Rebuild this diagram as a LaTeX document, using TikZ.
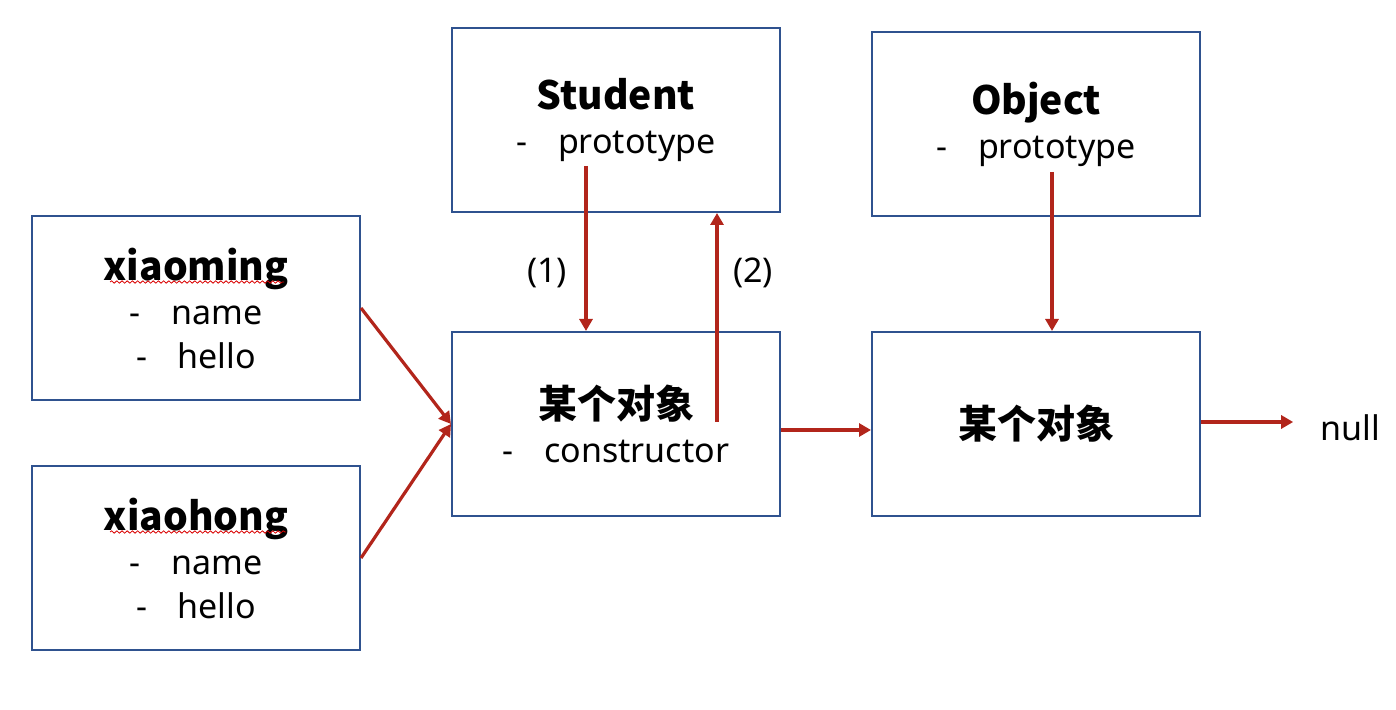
\documentclass[tikz,border=0pt]{standalone}
\usepackage{fontspec}
\setmainfont{Noto Sans}
\newfontfamily\cjk{Noto Sans CJK SC}
\usetikzlibrary{arrows.meta,calc,decorations.pathmorphing}
\definecolor{boxblue}{RGB}{47,82,143}
\definecolor{arrred}{RGB}{178,37,27}
\newcommand\hd[1]{{\fontsize{19.5}{22}\selectfont\cjk\bfseries #1}}
\newcommand\itm[1]{-\hspace{0.9em}#1}

\begin{document}
\begin{tikzpicture}[x=0.5pt,y=-0.5pt,
    objbox/.style={draw=boxblue,line width=1pt,minimum width=164pt,minimum height=92pt,
      inner sep=0pt,align=center,font=\fontsize{17}{22}\selectfont},
    lbl/.style={font=\fontsize{17}{22}\selectfont},
    link/.style={draw=arrred,line width=1.6pt,-{Triangle[length=6pt,width=6.5pt]}},
    squiggle/.style={draw=red!85!black,line width=0.4pt,decorate,
      decoration={snake,segment length=2.6pt,amplitude=0.6pt}}]
    \useasboundingbox (0,0) rectangle (1396,710);
    \node (XM) at (196,308) [objbox] {\hd{xiaoming}\\ \itm{name}\\ \itm{hello}}; % left top
    \node (XH) at (196,558) [objbox] {\hd{xiaohong}\\ \itm{name}\\ \itm{hello}}; % left bottom
    \node (ST) at (616,120) [objbox] {\hd{Student}\\ \itm{prototype}};
    \node (OB1) at (616,424) [objbox] {\hd{某个对象}\\ \itm{constructor}};
    \node (OJ) at (1036,124) [objbox] {\hd{Object}\\ \itm{prototype}};
    \node (OB2) at (1036,424) [objbox] {\hd{某个对象}};
    \node (NL) at (1350,428) [lbl] {null};
    \node (L1) at (547,273) [lbl] {(1)};
    \node (L2) at (753,273) [lbl] {(2)};
    \coordinate (P1) at (586,166); % under Student.prototype
    \coordinate (P2) at (717,422); % inside the middle box
    \coordinate (P3) at (1052,172); % under Object.prototype
    \draw[squiggle] ($(XM.north)+(-86,67)$) -- ($(XM.north)+(88,67)$);
    \draw[squiggle] ($(XH.north)+(-86,67)$) -- ($(XH.north)+(90,67)$);
    \draw[link] (XM.east) to (OB1.west);
    \draw[link] (XH.east) to (OB1.west);
    \draw[link] (P1) to (P1 |- OB1.north);
    \draw[link] (P2) to (P2 |- ST.south);
    \draw[link] ([yshift=-3pt]OB1.east) to ([yshift=-3pt]OB2.west);
    \draw[link] (P3) to (P3 |- OB2.north);
    \draw[link] ([yshift=1pt]OB2.east) to ($(OB2.east -| NL.west)+(-20,-2)$);
\end{tikzpicture}
\end{document}
